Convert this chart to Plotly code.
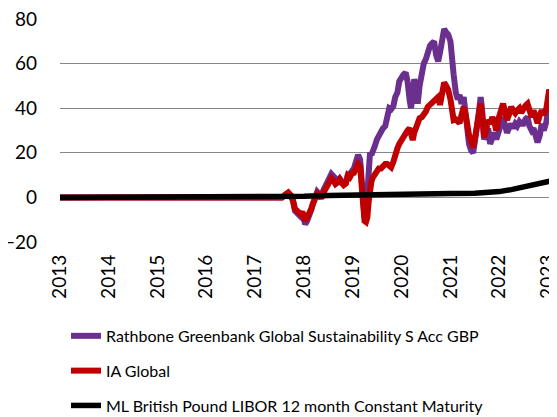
import plotly.graph_objects as go

# ---- data ----
fund_dates = [
    "2013-01-01", "2017-07-20", "2017-08-20", "2017-09-05", "2017-09-25", "2017-10-10",
    "2017-10-25", "2017-11-15", "2017-12-05", "2017-12-20", "2018-01-10", "2018-01-25",
    "2018-02-10", "2018-02-25", "2018-03-08", "2018-03-25", "2018-04-10", "2018-04-25",
    "2018-05-10", "2018-05-25", "2018-06-10", "2018-06-25", "2018-07-10", "2018-07-25",
    "2018-08-10", "2018-08-25", "2018-09-10", "2018-09-25", "2018-10-10", "2018-10-25",
    "2018-11-10", "2018-11-25", "2018-12-10", "2018-12-25", "2019-01-10", "2019-01-25",
    "2019-02-10", "2019-02-25", "2019-03-10", "2019-03-20", "2019-03-30", "2019-04-10",
    "2019-04-20", "2019-04-30", "2019-05-10", "2019-05-20", "2019-06-01", "2019-06-15",
    "2019-07-01", "2019-07-15", "2019-08-01", "2019-08-15", "2019-09-01", "2019-09-15",
    "2019-10-01", "2019-10-15", "2019-11-01", "2019-11-15", "2019-12-01", "2019-12-15",
    "2020-01-01", "2020-01-15", "2020-02-01", "2020-02-15", "2020-03-01", "2020-03-12",
    "2020-03-25", "2020-04-05", "2020-04-20", "2020-05-01", "2020-05-15", "2020-06-01",
    "2020-06-15", "2020-07-01", "2020-07-15", "2020-08-01", "2020-08-15", "2020-09-01",
    "2020-09-15", "2020-10-01", "2020-10-15", "2020-11-01", "2020-11-15", "2020-12-01",
    "2020-12-15", "2021-01-01", "2021-01-10", "2021-01-25", "2021-02-10", "2021-02-25",
    "2021-03-10", "2021-03-25", "2021-04-10", "2021-04-25", "2021-05-05", "2021-05-20",
    "2021-06-05", "2021-06-20", "2021-07-05", "2021-07-15", "2021-08-01", "2021-08-15",
    "2021-08-25", "2021-09-10", "2021-09-25", "2021-10-10", "2021-10-25", "2021-11-10",
    "2021-11-25", "2021-12-10", "2021-12-25", "2022-01-10", "2022-01-30", "2022-02-15",
    "2022-02-28", "2022-03-15", "2022-04-01", "2022-04-15", "2022-05-01", "2022-05-15",
    "2022-06-01", "2022-06-15", "2022-07-01", "2022-07-15", "2022-08-01", "2022-08-15",
    "2022-09-01", "2022-09-15", "2022-10-01", "2022-10-15", "2022-11-01", "2022-11-15",
    "2022-12-01", "2022-12-20", "2023-01-10", "2023-01-31",
]

rathbone = [
    0, 0, 1.5, 2.0, 0.5, -1.5,
    -6, -7, -8.5, -7.5, -12, -10.5,
    -8.5, -5.5, -3, 0.5, 2.5, 1.5,
    0, 3, 5, 8, 9.5, 10.5,
    9.5, 8, 7.5, 8.5, 7, 6,
    6.5, 10, 10.5, 12, 13, 16,
    19, 17, 6, -6, -9, -8,
    2, 18, 20, 19, 22, 23,
    26, 28, 29, 31, 32, 37,
    40, 39.5, 41, 45, 47, 52,
    54, 55, 56, 52, 44, 40,
    46, 53, 49, 42, 50, 57,
    60, 62, 66, 68, 69, 70,
    64, 61, 65, 71, 75.5, 74,
    73, 70, 66, 55, 47, 44,
    46, 42, 45, 38, 30, 24,
    21, 20, 26, 33, 38, 45,
    40, 26, 28, 31, 24, 27,
    29, 26, 30, 32, 36, 33,
    29, 31, 33, 31, 33, 32,
    34, 33, 33, 35, 36, 32,
    30, 31, 27, 24.7, 28, 33,
    30, 34, 42, 38,
]

ia_global = [
    0, 0, 1.5, 2.2, 1, -1,
    -5, -6, -7.5, -6.5, -10.5, -9,
    -7.5, -5, -3, 0, 1.7, 1,
    -0.5, 2, 3.5, 4.5, 6.5, 8.5,
    7.5, 6, 6.7, 8, 6.5, 5.5,
    6.2, 9.8, 9, 10.7, 11, 13.5,
    15, 14, 5, -8, -10.5, -11,
    -9, -2, 5, 7, 9, 10,
    11, 13, 13, 14.5, 15, 15,
    14, 13.5, 16, 20, 22, 24,
    26, 27, 29, 30, 31, 28,
    25.7, 29, 31.6, 33, 35.5, 36,
    37, 38.5, 40.6, 41.5, 43, 43.8,
    44.5, 45, 41.5, 46, 51.5, 50,
    48.3, 44, 38, 34.7, 35, 34,
    33.3, 37, 40.6, 37, 31.6, 28,
    25, 22.5, 27, 30, 36, 42,
    38, 27, 30, 34.7, 33, 36,
    34, 30, 35, 39, 42, 38,
    34.7, 37, 40.6, 39, 37.8, 39,
    40, 38, 40.6, 41, 42, 38,
    36, 39, 36, 33.3, 37, 39,
    37, 40, 48.3, 43.8,
]

libor_dates = [
    "2013-01-01", "2017-09-01", "2018-01-01", "2018-07-01", "2019-01-01", "2019-07-01",
    "2020-01-01", "2020-07-01", "2021-01-01", "2021-07-01", "2021-10-01", "2022-01-01",
    "2022-04-01", "2022-07-01", "2022-10-01", "2023-01-31",
]
libor = [0, 0, 0.5, 0.9, 1.2, 1.5, 1.7, 1.8, 1.8, 1.9, 2.1, 2.6, 3.5, 4.6, 5.9, 7.5]

series_names = [
    "Rathbone Greenbank Global Sustainability S Acc GBP",
    "IA Global",
    "ML British Pound LIBOR 12 month Constant Maturity",
]
series_colors = ["#6B2F8E", "#C00000", "#000000"]

y_ticks = [-20, 0, 20, 40, 60, 80]
x_tick_years = [str(y) for y in range(2013, 2024)]

FONT = "Lato, Carlito, Calibri, sans-serif"

fig = go.Figure()
fig.add_trace(go.Scatter(x=fund_dates, y=rathbone, name=series_names[0], mode="lines",
                         line=dict(color=series_colors[0], width=6), legendgroup="a"))
fig.add_trace(go.Scatter(x=fund_dates, y=ia_global, name=series_names[1], mode="lines",
                         line=dict(color=series_colors[1], width=6), legendgroup="b"))
fig.add_trace(go.Scatter(x=libor_dates, y=libor, name=series_names[2], mode="lines",
                         line=dict(color=series_colors[2], width=5.5), legendgroup="c"))

# the page body has an 8px default margin, so the figure is sized to fit the window
fig.update_layout(
    width=549, height=409,
    margin=dict(l=52, r=5, t=11, b=175, autoexpand=False),
    paper_bgcolor="white", plot_bgcolor="white",
    font=dict(family=FONT, color="#000000"),
    showlegend=True,
    legend=dict(
        orientation="v", x=0.0122, xanchor="left", y=-0.345, yanchor="top",
        font=dict(family=FONT, size=16, color="#000000"),
        tracegroupgap=11, bgcolor="rgba(0,0,0,0)", itemwidth=30,
    ),
)
fig.update_xaxes(
    type="date",
    range=["2013-01-01", "2023-01-31"],
    tickvals=[f"{y}-01-01" for y in x_tick_years],
    ticktext=x_tick_years,
    tickangle=-90,
    tickfont=dict(family=FONT, size=19, color="#000000"),
    showgrid=False, zeroline=False, showline=False,
    ticks="", ticklabelstandoff=8, ticklabelshift=0,
    ticklabeloverflow="allow", automargin=False,
)
fig.update_yaxes(
    range=[-20, 80],
    tickvals=y_ticks,
    tickfont=dict(family=FONT, size=19, color="#000000"),
    showgrid=True, gridcolor="#868686", gridwidth=1,
    zeroline=True, zerolinecolor="#868686", zerolinewidth=1,
    showline=False, ticks="", ticklabelstandoff=22,
    ticklabeloverflow="allow", automargin=False,
)

fig.write_html("out.html")
